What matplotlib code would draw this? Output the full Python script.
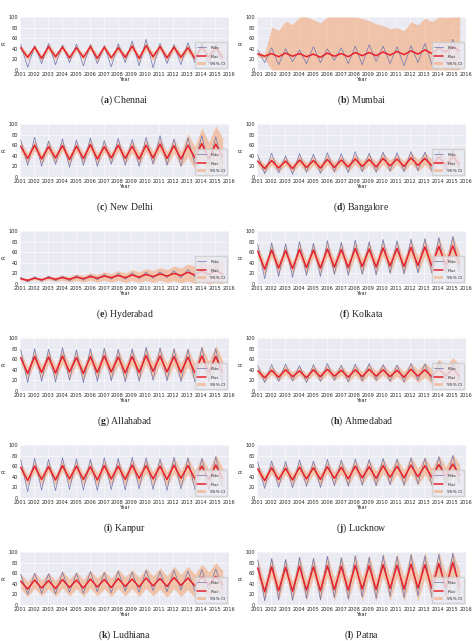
import numpy as np
import matplotlib
matplotlib.use("Agg")
import matplotlib.pyplot as plt
import seaborn as sns

sns.set_style("darkgrid")
plt.rcParams['font.family'] = ['DejaVu Sans']
plt.rcParams['mathtext.fontset'] = 'custom'
plt.rcParams['mathtext.bf'] = 'Liberation Serif:bold'
plt.rcParams['mathtext.rm'] = 'Liberation Serif'

years = list(range(2001, 2016))
cities = ["Chennai", "Mumbai", "New Delhi", "Bangalore", "Hyderabad", "Kolkata",
          "Allahabad", "Ahmedabad", "Kanpur", "Lucknow", "Ludhiana", "Patna"]
letters = list("abcdefghijkl")

pred_hi = {
 "Chennai":   [42,43,44,43,42,44,43,42,45,46,44,43,42,44,43],
 "Mumbai":    [30,31,32,31,30,32,31,33,33,34,35,36,38,42,44],
 "New Delhi": [58,60,57,59,58,61,57,60,58,60,62,59,60,63,62],
 "Bangalore": [30,31,30,32,31,33,32,34,33,35,34,36,35,37,38],
 "Hyderabad": [10,11,12,12,13,14,15,16,17,18,19,20,22,24,25],
 "Kolkata":   [62,64,63,65,64,66,65,67,66,68,67,69,70,71,72],
 "Allahabad": [63,65,64,66,63,65,66,64,65,67,66,65,64,66,65],
 "Ahmedabad": [38,39,40,38,40,41,39,40,41,40,39,41,40,42,41],
 "Kanpur":    [58,60,59,61,60,59,61,60,62,61,60,62,61,60,62],
 "Lucknow":   [55,57,56,58,57,59,58,60,59,61,60,62,61,63,64],
 "Ludhiana":  [45,47,46,48,47,49,48,50,49,51,50,52,51,53,54],
 "Patna":     [70,72,71,73,72,74,73,75,74,76,75,77,76,78,80],
}
pred_lo = {
 "Chennai":   [24,22,25,23,24,22,23,24,22,25,23,24,22,24,23],
 "Mumbai":    [26,25,26,25,24,26,25,27,27,28,29,30,31,34,36],
 "New Delhi": [35,34,36,33,35,34,36,35,34,36,35,34,36,35,38],
 "Bangalore": [16,17,16,18,17,18,19,20,19,21,20,22,21,23,24],
 "Hyderabad": [7,8,9,9,10,11,12,12,13,14,15,16,17,18,19],
 "Kolkata":   [28,30,29,31,30,32,31,33,32,34,33,35,34,36,37],
 "Allahabad": [33,35,34,36,33,35,36,34,35,37,36,35,34,36,35],
 "Ahmedabad": [25,26,27,25,27,28,26,27,28,27,26,28,27,29,28],
 "Kanpur":    [33,35,34,36,35,34,36,35,37,36,35,37,36,35,37],
 "Lucknow":   [33,35,34,36,35,37,36,38,37,39,38,40,39,41,42],
 "Ludhiana":  [30,32,31,33,32,34,33,35,34,36,35,37,36,38,39],
 "Patna":     [25,27,26,28,27,29,28,30,29,31,30,32,31,33,35],
}
obs_hi = {
 "Chennai":   [48,46,50,47,49,48,46,50,55,58,50,48,52,50,48],
 "Mumbai":    [38,42,40,38,44,40,42,45,48,45,44,46,50,48,58],
 "New Delhi": [70,75,68,72,70,74,69,73,71,75,78,72,74,78,76],
 "Bangalore": [42,45,40,44,43,46,44,48,45,47,46,48,47,50,50],
 "Hyderabad": [13,14,15,15,16,17,18,20,21,22,23,25,27,30,32],
 "Kolkata":   [75,78,76,80,77,82,79,83,80,84,82,85,86,88,90],
 "Allahabad": [78,80,79,82,78,80,81,79,80,83,82,80,79,82,80],
 "Ahmedabad": [48,50,51,48,50,52,49,51,52,50,49,52,51,54,52],
 "Kanpur":    [72,75,73,76,74,73,76,75,77,76,74,77,76,75,78],
 "Lucknow":   [68,70,69,72,70,73,72,74,73,75,74,76,75,78,80],
 "Ludhiana":  [58,60,59,62,60,63,61,64,62,65,63,66,64,67,68],
 "Patna":     [85,88,86,90,88,92,89,93,90,94,92,95,93,96,98],
}
obs_lo = {
 "Chennai":   [5,12,10,14,8,12,6,14,8,4,12,10,14,12,15],
 "Mumbai":    [14,10,16,12,14,18,12,10,16,12,8,14,10,12,20],
 "New Delhi": [22,20,24,18,22,20,24,22,20,24,22,20,24,22,25],
 "Bangalore": [6,8,5,9,7,10,8,10,9,11,10,12,11,13,14],
 "Hyderabad": [4,5,6,6,7,8,9,9,10,11,12,12,13,14,15],
 "Kolkata":   [10,14,12,16,14,18,16,18,17,20,19,21,20,22,24],
 "Allahabad": [16,18,17,20,16,18,19,17,18,20,19,18,17,19,18],
 "Ahmedabad": [16,18,19,16,18,20,17,19,20,18,17,20,19,22,20],
 "Kanpur":    [12,15,14,16,15,14,16,15,17,16,14,17,16,15,18],
 "Lucknow":   [18,20,19,22,20,23,22,24,23,25,24,26,25,27,28],
 "Ludhiana":  [20,22,21,24,22,25,23,26,24,27,25,28,26,29,30],
 "Patna":     [8,10,9,12,10,14,11,15,12,16,14,17,15,18,20],
}
ci_width = {
 "Chennai":   [6,6,7,6,6,7,6,7,7,8,7,7,8,9,9],
 "Mumbai":    [5,50,60,75,65,80,75,70,60,50,45,55,60,65,70],
 "New Delhi": [10,10,11,10,10,11,10,11,12,12,13,14,22,30,35],
 "Bangalore": [8,9,8,9,9,10,9,10,10,11,10,11,12,13,14],
 "Hyderabad": [3,3,4,5,6,7,8,9,10,11,12,14,16,18,22],
 "Kolkata":   [12,13,12,14,13,14,14,15,14,15,15,16,17,18,20],
 "Allahabad": [12,13,13,14,13,14,14,15,15,16,16,17,18,20,22],
 "Ahmedabad": [8,8,9,8,9,9,9,10,10,10,11,12,14,18,22],
 "Kanpur":    [10,11,10,11,11,12,12,12,13,13,14,15,16,18,20],
 "Lucknow":   [10,11,11,12,12,12,13,13,14,14,15,16,17,18,20],
 "Ludhiana":  [14,15,15,16,16,17,17,18,18,19,20,21,22,24,26],
 "Patna":     [18,19,18,20,19,21,20,22,21,22,23,24,25,27,30],
}

def interleave(hi, lo):
    out = []
    for h, l in zip(hi, lo):
        out += [h, l]
    return np.array(out, dtype=float)

t = []
for y in years:
    t += [y + 0.05, y + 0.55]
t = np.array(t)

W, H = 474, 641
fig = plt.figure(figsize=(W / 100, H / 100), dpi=100)
for i, c in enumerate(cities):
    row, col = divmod(i, 2)
    left = 20 if col == 0 else 257
    top = 17 + 107 * row
    ax = fig.add_axes([left / W, 1 - (top + 53) / H, 209 / W, 53 / H])
    pe = interleave(pred_hi[c], pred_lo[c])
    ob = interleave(obs_hi[c], obs_lo[c])
    w = np.repeat(ci_width[c], 2)
    ax.fill_between(t, np.clip(pe - w, 0, 100), np.clip(pe + w, 0, 100),
                    color="#f4a97a", alpha=0.6, lw=0, label="95% CI")
    ax.plot(t, ob, color="#6d74b0", lw=0.5, label="$R_{obs}$")
    ax.plot(t, pe, color="#e8202a", lw=1.1, label="$R_{est}$")
    ax.set_xlim(2001, 2016)
    ax.set_ylim(0, 100)
    ax.set_xticks(range(2001, 2017))
    ax.set_yticks([0, 20, 40, 60, 80, 100])
    ax.tick_params(axis="x", labelsize=3.6, pad=1.2, length=0)
    ax.tick_params(axis="y", labelsize=3.6, pad=1.5, length=0)
    ax.set_xlabel("Year", fontsize=3.6, labelpad=0.5)
    ax.set_ylabel("R", fontsize=3.6, labelpad=1)
    for s in ax.spines.values():
        s.set_visible(False)
    ax.grid(color="white", lw=0.4)
    h, l = ax.get_legend_handles_labels()
    ax.legend([h[1], h[2], h[0]], [l[1], l[2], l[0]], loc="lower right",
              fontsize=3.2, frameon=True, handlelength=2, borderpad=0.4,
              labelspacing=0.3)
    cx = (left + 104.5) / W
    cy = 1 - (top + 83) / H
    fig.text(cx, cy, r"($\mathbf{%s}$) %s" % (letters[i], c), ha="center", va="center",
             fontsize=7, family="Liberation Serif")

fig.savefig("out.png", dpi=100, facecolor="white")
